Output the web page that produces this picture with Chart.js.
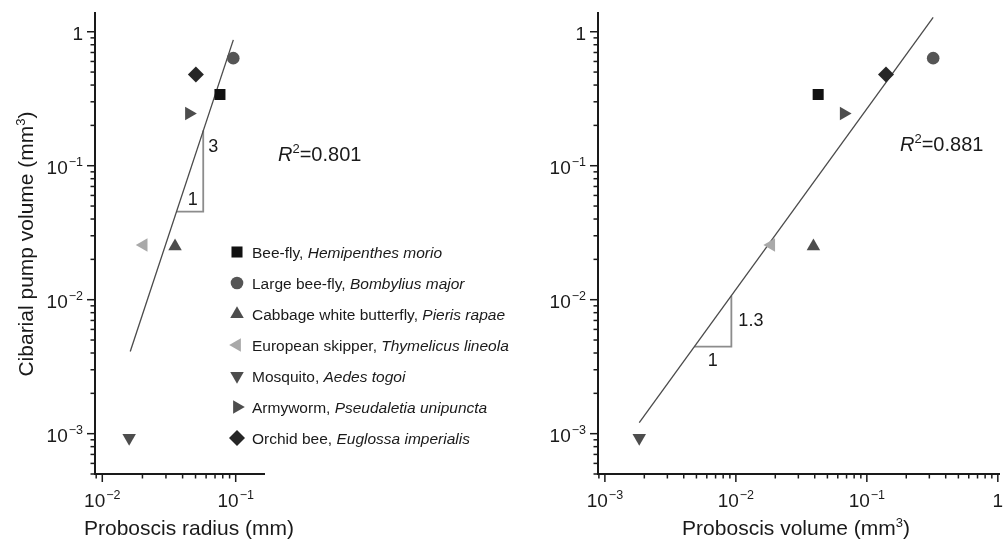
<!DOCTYPE html>
<html lang="en">
<head>
<meta charset="UTF-8">
<title>Cibarial pump volume vs proboscis size</title>
<script src="https://cdn.jsdelivr.net/npm/chart.js"></script>
<style>
  body { margin: 0; background: #fff; }
  .wrap { position: relative; width: 1007px; height: 541px; overflow: hidden; }
  #left { position: absolute; left: 0; top: 0; }
  #right { position: absolute; left: 540px; top: 0; }
</style>
</head>
<body>
<div class="wrap">
  <canvas id="left" width="540" height="541"></canvas>
  <canvas id="right" width="467" height="541"></canvas>
</div>
<script>
// species, legend order
const commonNames = ['Bee-fly', 'Large bee-fly', 'Cabbage white butterfly', 'European skipper', 'Mosquito', 'Armyworm', 'Orchid bee'];
const latinNames = ['Hemipenthes morio', 'Bombylius major', 'Pieris rapae', 'Thymelicus lineola', 'Aedes togoi', 'Pseudaletia unipuncta', 'Euglossa imperialis'];

// cibarial pump volume (mm3), shared by both panels
const pumpVolume = [0.34, 0.635, 0.025, 0.0256, 0.00093, 0.245, 0.48];
// left panel: proboscis radius (mm)
const proboscisRadius = [0.0762, 0.0959, 0.0351, 0.0204, 0.0159, 0.0447, 0.0503];
// right panel: proboscis volume (mm3)
const proboscisVolume = [0.0425, 0.321, 0.0391, 0.0186, 0.00183, 0.0667, 0.140];

// fitted lines (end points)
const fitRadiusX = [0.0162, 0.096];
const fitRadiusY = [0.0041, 0.87];
const fitVolumeX = [0.00183, 0.321];
const fitVolumeY = [0.00121, 1.28];

// slope triangles
const slopeRadiusX = [0.0359, 0.0571, 0.0571];
const slopeRadiusY = [0.0454, 0.0454, 0.183];
const slopeVolumeX = [0.00482, 0.00924, 0.00924];
const slopeVolumeY = [0.00446, 0.00446, 0.01072];

// axis ticks (labelled decades)
const radiusTicks = [0.01, 0.1];
const volumeTicks = [0.001, 0.01, 0.1, 1];
const pumpTicks = [0.001, 0.01, 0.1, 1];

const markerStyle = ['rect', 'circle', 'triangle', 'triangle', 'triangle', 'triangle', 'rectRot'];
const markerRotation = [0, 0, 0, 270, 180, 90, 0];
const markerRadius = [7.8, 6.3, 7.8, 7.8, 7.8, 7.8, 8];
const markerColor = ['#111111', '#555555', '#4d4d4d', '#a9a9a9', '#4d4d4d', '#4d4d4d', '#262626'];

const FONT = '"Liberation Sans", Arial, Helvetica, sans-serif';
const INK = '#1a1a1a';

function pairs(xs, ys) { return xs.map((x, i) => ({x: x, y: ys[i]})); }

function speciesSets(xs) {
  return commonNames.map((name, i) => ({
    label: name,
    data: [{x: xs[i], y: pumpVolume[i]}],
    pointStyle: markerStyle[i],
    pointRotation: markerRotation[i],
    pointRadius: markerRadius[i],
    pointHoverRadius: markerRadius[i],
    pointBackgroundColor: markerColor[i],
    pointBorderColor: markerColor[i],
    pointBorderWidth: 0
  }));
}

function lineSet(data, color, width) {
  return {data: data, showLine: true, borderColor: color, borderWidth: width, pointRadius: 0, pointHoverRadius: 0, fill: false};
}

// 1..9 x 10^n ticks, labelled ones flagged major
function logTicks(min, max, majors) {
  const out = [];
  for (let e = Math.floor(Math.log10(min)); e <= Math.floor(Math.log10(max)); e++) {
    for (let m = 1; m <= 9; m++) {
      const v = m * Math.pow(10, e);
      if (v >= min * 0.999 && v <= max * 1.001) {
        out.push({value: v, major: majors.some(t => Math.abs(t / v - 1) < 1e-6)});
      }
    }
  }
  return out;
}

function logAxis(min, max, majors, size, horizontal) {
  return {
    type: 'logarithmic', min: min, max: max,
    grid: {display: false},
    border: {display: true, color: INK, width: 2},
    ticks: {display: false},
    afterBuildTicks: s => { s.ticks = logTicks(min, max, majors); },
    afterFit: s => { if (horizontal) s.height = size; else s.width = size; }
  };
}

// draw "10" with a raised exponent
function drawPower(ctx, v, x, y, align) {
  const exp = Math.round(Math.log10(v));
  const base = exp === 0 ? '1' : '10';
  const sup = exp === 0 ? '' : (exp < 0 ? '\u2212' : '') + Math.abs(exp);
  ctx.font = '19px ' + FONT;
  const wb = ctx.measureText(base).width;
  ctx.font = '12.5px ' + FONT;
  const ws = sup ? ctx.measureText(sup).width + 1 : 0;
  const x0 = align === 'right' ? x - wb - ws : x - (wb + ws) / 2;
  ctx.textAlign = 'left';
  ctx.textBaseline = 'alphabetic';
  ctx.font = '19px ' + FONT;
  ctx.fillText(base, x0, y + 7);
  if (sup) {
    ctx.font = '12.5px ' + FONT;
    ctx.fillText(sup, x0 + wb + 1, y - 1.5);
  }
}

// text pieces: [text, font, raise]
function drawPieces(ctx, pieces, x, y, align) {
  let total = 0;
  pieces.forEach(p => { ctx.font = p[1]; total += ctx.measureText(p[0]).width; });
  let cx = align === 'center' ? x - total / 2 : x;
  ctx.textAlign = 'left';
  ctx.textBaseline = 'alphabetic';
  pieces.forEach(p => {
    ctx.font = p[1];
    ctx.fillText(p[0], cx, y - (p[2] || 0));
    cx += ctx.measureText(p[0]).width;
  });
}

function fallbackPoint(ctx, o, x, y) {
  const r = o.radius, rad = (o.rotation || 0) * Math.PI / 180;
  ctx.beginPath();
  if (o.pointStyle === 'circle') {
    ctx.arc(x, y, r, 0, Math.PI * 2);
  } else if (o.pointStyle === 'rect') {
    const s = r * Math.SQRT1_2;
    ctx.rect(x - s, y - s, 2 * s, 2 * s);
  } else if (o.pointStyle === 'rectRot') {
    ctx.moveTo(x - r, y); ctx.lineTo(x, y + r); ctx.lineTo(x + r, y); ctx.lineTo(x, y - r);
  } else {
    let a = rad;
    ctx.moveTo(x + Math.sin(a) * r, y - Math.cos(a) * r);
    a += 2 * Math.PI / 3;
    ctx.lineTo(x + Math.sin(a) * r, y - Math.cos(a) * r);
    a += 2 * Math.PI / 3;
    ctx.lineTo(x + Math.sin(a) * r, y - Math.cos(a) * r);
  }
  ctx.closePath();
  ctx.fill();
}
const drawPt = (Chart.helpers && Chart.helpers.drawPoint) ? Chart.helpers.drawPoint : fallbackPoint;

function decor(opts) {
  return {
    id: 'decor',
    afterDraw(chart) {
      const ctx = chart.ctx, xs = chart.scales.x, ys = chart.scales.y, a = chart.chartArea;
      ctx.save();
      ctx.strokeStyle = INK;
      ctx.fillStyle = INK;
      ctx.lineWidth = 1.5;
      ys.ticks.forEach(t => {
        const p = ys.getPixelForValue(t.value), len = t.major ? 8 : 4.5;
        ctx.beginPath(); ctx.moveTo(a.left - len, p); ctx.lineTo(a.left, p); ctx.stroke();
      });
      xs.ticks.forEach(t => {
        const p = xs.getPixelForValue(t.value), len = t.major ? 8 : 4.5;
        ctx.beginPath(); ctx.moveTo(p, a.bottom); ctx.lineTo(p, a.bottom + len); ctx.stroke();
      });
      opts.yTicks.forEach(v => drawPower(ctx, v, a.left - 12, ys.getPixelForValue(v) + 1.5, 'right'));
      opts.xTicks.forEach(v => drawPower(ctx, v, xs.getPixelForValue(v), a.bottom + 26, 'center'));

      // axis titles
      drawPieces(ctx, opts.xTitle, opts.xTitlePos[0], opts.xTitlePos[1], 'center');
      if (opts.yTitle) {
        ctx.save();
        ctx.translate(opts.yTitlePos[0], opts.yTitlePos[1]);
        ctx.rotate(-Math.PI / 2);
        drawPieces(ctx, opts.yTitle, 0, 0, 'center');
        ctx.restore();
      }

      // R squared
      drawPieces(ctx, [['R', 'italic 20px ' + FONT], ['2', '13px ' + FONT, 8], ['=' + opts.r2, '20px ' + FONT]], opts.r2Pos[0], opts.r2Pos[1], 'left');

      // slope triangle labels
      const tx0 = xs.getPixelForValue(opts.slopeX[0]), tx1 = xs.getPixelForValue(opts.slopeX[1]);
      const ty0 = ys.getPixelForValue(opts.slopeY[0]), ty2 = ys.getPixelForValue(opts.slopeY[2]);
      ctx.font = '18px ' + FONT;
      ctx.textBaseline = 'middle';
      ctx.textAlign = 'left';
      ctx.fillText(opts.rise, tx1 + opts.riseDx, opts.riseMid ? (ty0 + ty2) / 2 : ty2 + 16);
      ctx.textAlign = 'center';
      ctx.fillText('1', (tx0 + tx1) / 2 + opts.runDx, ty0 + opts.runDy);

      // legend
      if (opts.legend) {
        commonNames.forEach((name, i) => {
          const y = 252 + 31 * i;
          ctx.fillStyle = markerColor[i];
          drawPt(ctx, {pointStyle: markerStyle[i], rotation: markerRotation[i], radius: markerRadius[i], borderWidth: 0}, 237, y);
          ctx.fillStyle = INK;
          drawPieces(ctx, [[name + ', ', '15.5px ' + FONT], [latinNames[i], 'italic 15.5px ' + FONT]], 252, y + 6, 'left');
        });
      }
      ctx.restore();
    }
  };
}

function baseOptions(xAxis, yAxis, padding) {
  return {
    responsive: false,
    animation: false,
    layout: {padding: padding},
    plugins: {legend: {display: false}, tooltip: {enabled: false}},
    scales: {x: xAxis, y: yAxis}
  };
}

new Chart(document.getElementById('left'), {
  type: 'scatter',
  data: {
    datasets: speciesSets(proboscisRadius).concat([
      lineSet(pairs(fitRadiusX, fitRadiusY), '#4a4a4a', 1.3),
      lineSet(pairs(slopeRadiusX, slopeRadiusY), '#8c8c8c', 1.8)
    ])
  },
  options: baseOptions(
    logAxis(0.008817, 0.163, radiusTicks, 67, true),
    logAxis(0.0005, 1.38, pumpTicks, 95, false),
    {top: 13, right: 276, left: 0, bottom: 0}
  ),
  plugins: [decor({
    xTicks: radiusTicks, yTicks: pumpTicks,
    xTitle: [['Proboscis radius (mm)', '21px ' + FONT]], xTitlePos: [189, 535],
    yTitle: [['Cibarial pump volume (mm', '21px ' + FONT], ['3', '13px ' + FONT, 8], [')', '21px ' + FONT]],
    yTitlePos: [33, 244],
    r2: '0.801', r2Pos: [278, 161],
    slopeX: slopeRadiusX, slopeY: slopeRadiusY,
    rise: '3', riseDx: 5, riseMid: false, runDx: 3, runDy: -12,
    legend: true
  })]
});

new Chart(document.getElementById('right'), {
  type: 'scatter',
  data: {
    datasets: speciesSets(proboscisVolume).concat([
      lineSet(pairs(fitVolumeX, fitVolumeY), '#4a4a4a', 1.3),
      lineSet(pairs(slopeVolumeX, slopeVolumeY), '#8c8c8c', 1.8)
    ])
  },
  options: baseOptions(
    logAxis(0.000886, 1.021, volumeTicks, 67, true),
    logAxis(0.0005, 1.38, pumpTicks, 58, false),
    {top: 13, right: 0, left: 0, bottom: 0}
  ),
  plugins: [decor({
    xTicks: volumeTicks, yTicks: pumpTicks,
    xTitle: [['Proboscis volume (mm', '21px ' + FONT], ['3', '13px ' + FONT, 8], [')', '21px ' + FONT]],
    xTitlePos: [256, 535],
    r2: '0.881', r2Pos: [360, 151],
    slopeX: slopeVolumeX, slopeY: slopeVolumeY,
    rise: '1.3', riseDx: 7, riseMid: true, runDx: 0, runDy: 14,
    legend: false
  })]
});
</script>
</body>
</html>
